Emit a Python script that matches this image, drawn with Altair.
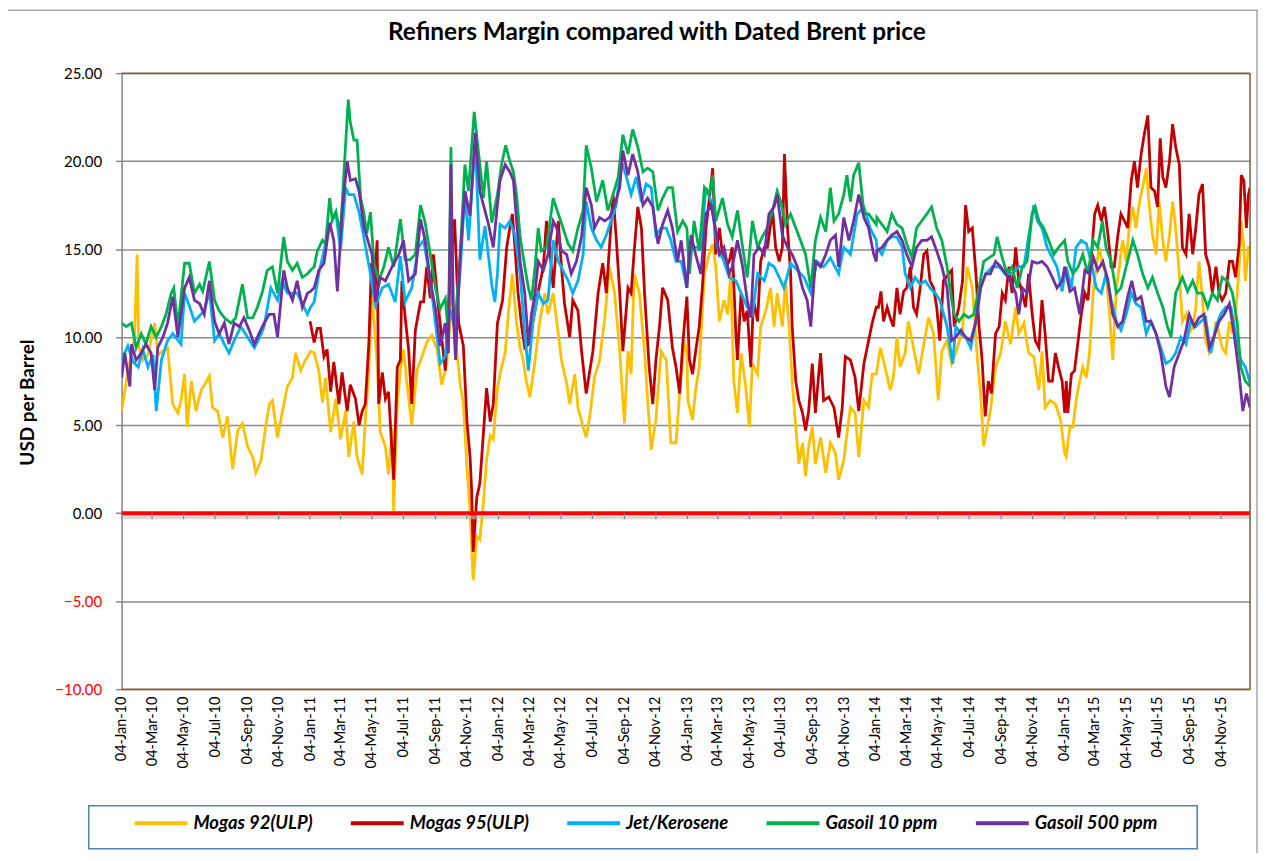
import altair as alt
import pandas as pd

SERIES = ["Mogas 92(ULP)", "Mogas 95(ULP)", "Jet/Kerosene", "Gasoil 10 ppm", "Gasoil 500 ppm"]
COLORS = ["#FFC000", "#C00000", "#00B0F0", "#00B050", "#7030A0"]
TITLE = "Refiners Margin compared with Dated Brent price"

# (months elapsed since 04-Jan-2010, USD per barrel)
MOGAS92 = [
    (0.00, 5.8), (0.40, 8.0), (0.82, 10.0), (0.97, 14.7), (1.10, 9.5), (1.35, 8.7), (1.67, 9.0), (2.09, 10.8),
    (2.30, 9.0), (2.94, 9.4), (3.26, 6.2), (3.57, 5.7), (3.78, 6.4), (4.00, 7.9), (4.16, 4.9), (4.42, 7.5),
    (4.74, 5.8), (5.05, 7.0), (5.37, 7.4), (5.58, 7.8), (5.79, 6.0), (6.11, 5.8), (6.43, 4.3), (6.74, 5.5),
    (7.06, 2.5), (7.38, 4.7), (7.70, 5.1), (8.01, 3.8), (8.33, 3.2), (8.54, 2.3), (8.86, 3.0), (9.18, 4.9),
    (9.39, 6.2), (9.60, 6.4), (9.92, 4.3), (10.23, 5.7), (10.55, 7.2), (10.87, 7.7), (11.08, 9.1), (11.40, 8.1),
    (11.71, 8.7), (12.03, 9.2),
    (12.24, 9.1), (12.55, 8.1), (12.77, 6.3), (12.98, 7.7), (13.30, 4.6), (13.62, 6.5), (13.93, 4.2), (14.25, 5.8),
    (14.46, 3.2), (14.78, 5.2), (14.99, 3.2), (15.31, 2.2), (15.52, 5.2), (15.73, 8.1), (15.94, 12.4), (16.26, 8.5),
    (16.47, 4.6), (16.79, 3.8), (17.00, 2.2), (17.21, 4.8), (17.31, 0.1), (17.53, 6.2), (17.74, 8.1), (17.95, 9.3),
    (18.16, 7.3), (18.48, 5.0), (18.79, 8.1), (19.11, 8.9), (19.43, 9.7), (19.75, 10.1), (20.06, 9.3), (20.38, 7.3),
    (20.70, 8.5), (21.01, 12.0), (21.23, 10.1), (21.54, 7.3), (21.75, 6.2), (21.97, 2.6), (22.18, 0.1), (22.39, -3.8),
    (22.60, -1.3), (22.81, -1.5), (23.02, 0.7), (23.23, 3.0), (23.45, 4.4), (23.66, 4.2), (23.93, 7.1),
    (24.19, 8.3), (24.40, 9.1), (24.61, 11.3), (24.86, 13.6), (25.14, 10.8), (25.35, 9.4), (25.56, 8.7), (25.77, 7.5),
    (25.98, 6.6), (26.30, 8.7), (26.62, 10.9), (26.93, 12.5), (27.14, 11.3), (27.46, 12.5), (27.68, 10.9), (27.99, 8.7),
    (28.31, 7.4), (28.52, 6.2), (28.84, 7.9), (29.05, 6.0), (29.37, 4.9), (29.58, 4.3), (29.79, 5.5), (30.11, 7.7),
    (30.42, 8.7), (30.74, 11.1), (31.06, 14.0), (31.37, 12.5), (31.69, 9.2), (32.01, 5.1), (32.22, 9.2), (32.43, 7.9),
    (32.64, 13.6), (32.96, 12.5), (33.28, 9.2), (33.49, 6.4), (33.70, 3.6), (34.02, 5.3), (34.33, 9.2), (34.65, 8.7),
    (34.97, 4.0), (35.29, 4.0), (35.50, 6.8), (35.81, 9.8), (35.98, 9.1),
    (36.03, 6.4), (36.34, 5.3), (36.55, 7.0), (36.76, 8.3), (37.08, 13.6), (37.40, 14.7), (37.61, 15.3), (37.82, 14.0),
    (38.03, 10.9), (38.35, 12.1), (38.56, 11.3), (38.77, 13.6), (38.98, 7.5), (39.20, 5.7), (39.41, 9.1), (39.73, 7.2),
    (39.94, 4.9), (40.15, 8.5), (40.47, 7.9), (40.68, 10.6), (40.99, 11.5), (41.31, 12.8), (41.52, 10.6), (41.73, 12.5),
    (42.05, 10.6), (42.26, 13.2), (42.47, 10.6), (42.68, 7.5), (42.90, 4.9), (43.11, 2.8), (43.32, 4.0), (43.53, 2.1),
    (43.74, 3.8), (43.95, 4.9), (44.16, 2.8), (44.48, 4.3), (44.80, 2.3), (45.12, 4.0), (45.43, 3.4), (45.65, 1.9),
    (45.96, 3.0), (46.17, 4.5), (46.38, 6.0), (46.70, 5.7), (46.91, 3.2), (47.23, 6.4), (47.55, 6.0), (47.76, 7.9),
    (48.03, 7.9),
    (48.29, 9.4), (48.60, 8.3), (48.92, 7.0), (49.13, 7.7), (49.34, 10.0), (49.56, 8.3), (49.87, 9.1), (50.08, 10.9),
    (50.40, 9.4), (50.72, 7.9), (51.04, 9.6), (51.35, 11.1), (51.67, 10.2), (51.99, 6.4), (52.20, 9.2), (52.52, 9.8),
    (52.83, 8.5), (53.09, 9.1), (53.51, 10.4), (53.83, 14.0), (54.14, 12.8), (54.46, 8.7), (54.67, 6.8), (54.88, 3.8),
    (55.09, 4.9), (55.31, 5.8), (55.62, 8.3), (55.94, 9.1), (56.26, 10.9), (56.58, 9.6), (56.89, 11.7), (57.10, 10.2),
    (57.42, 10.8), (57.74, 9.1), (58.05, 8.9), (58.37, 7.0), (58.58, 9.2), (58.79, 6.0), (59.11, 6.4), (59.43, 6.2),
    (59.75, 5.3), (60.02, 3.4),
    (60.13, 3.2), (60.34, 4.9), (60.55, 4.9), (60.76, 6.4), (60.97, 7.5), (61.18, 8.3), (61.40, 7.7), (61.61, 9.1),
    (61.82, 12.5), (62.03, 14.0), (62.24, 15.1), (62.45, 14.0), (62.66, 13.6), (62.88, 11.3), (63.09, 8.7), (63.30, 12.8),
    (63.51, 14.0), (63.72, 15.5), (63.93, 14.3), (64.14, 16.2), (64.36, 17.4), (64.57, 16.2), (64.78, 17.7), (64.99, 18.5),
    (65.20, 19.6), (65.41, 17.4), (65.62, 15.8), (65.84, 14.7), (66.05, 17.7), (66.26, 15.5), (66.47, 14.3), (66.68, 15.8),
    (66.89, 17.7), (67.10, 16.2), (67.31, 13.6), (67.53, 10.9), (67.74, 11.3), (67.95, 10.2), (68.16, 10.6), (68.37, 11.7),
    (68.58, 14.3), (68.79, 12.1), (69.01, 9.8), (69.22, 9.1), (69.43, 9.4), (69.64, 10.9), (69.85, 10.2), (70.06, 9.4),
    (70.27, 9.1), (70.49, 10.9), (70.70, 10.2), (70.91, 11.3), (71.12, 14.0), (71.27, 16.6), (71.44, 15.1), (71.54, 13.2),
    (71.71, 15.1), (71.82, 15.1),
]

MOGAS95 = [
    (12.00, 10.9), (12.24, 9.7), (12.45, 10.5), (12.66, 10.5), (12.87, 8.9), (13.09, 9.3), (13.30, 6.9), (13.51, 8.6),
    (13.83, 6.2), (14.04, 8.0), (14.36, 5.8), (14.57, 7.3), (14.88, 6.5), (15.10, 5.0), (15.31, 5.8), (15.52, 6.2),
    (15.73, 9.7), (15.90, 14.2), (16.05, 12.4), (16.26, 15.5), (16.36, 6.2), (16.58, 8.0), (16.79, 6.5), (17.00, 6.9),
    (17.31, 1.9), (17.53, 8.3), (17.74, 8.7), (17.84, 13.2), (18.05, 11.2), (18.27, 9.3), (18.48, 6.2), (18.69, 10.4),
    (19.01, 12.0), (19.22, 12.0), (19.43, 14.0), (19.64, 12.2), (19.85, 14.7), (20.17, 11.6), (20.59, 8.1), (20.91, 13.2),
    (21.18, 16.7), (21.44, 10.8), (21.75, 9.5), (21.97, 5.2), (22.18, 3.2), (22.28, 1.3), (22.39, -2.2), (22.60, 0.9),
    (22.81, 1.7), (23.02, 4.6), (23.23, 7.1), (23.45, 5.2), (23.66, 6.2), (23.93, 10.8),
    (24.23, 12.1), (24.50, 15.1), (24.71, 16.2), (24.86, 17.0), (25.03, 15.1), (25.24, 12.5), (25.45, 10.6), (25.67, 9.4),
    (25.88, 9.6), (26.19, 10.9), (26.51, 12.6), (26.83, 14.0), (27.04, 16.6), (27.25, 15.1), (27.46, 12.8), (27.78, 16.6),
    (27.99, 14.0), (28.20, 11.9), (28.52, 10.0), (28.73, 12.1), (29.05, 11.5), (29.26, 9.2), (29.58, 6.8), (29.79, 8.1),
    (30.00, 9.2), (30.32, 12.5), (30.63, 14.2), (30.85, 12.5), (31.06, 15.1), (31.27, 18.1), (31.48, 15.7), (31.69, 12.5),
    (31.90, 9.2), (32.22, 12.8), (32.43, 12.5), (32.64, 14.9), (32.85, 17.4), (33.07, 16.2), (33.28, 12.5), (33.59, 8.3),
    (33.81, 6.2), (34.02, 8.7), (34.23, 10.6), (34.44, 12.8), (34.76, 12.1), (35.07, 9.4), (35.29, 8.3), (35.50, 6.8),
    (35.71, 9.6), (35.98, 12.3),
    (36.13, 8.7), (36.34, 7.9), (36.55, 9.2), (36.76, 10.6), (36.97, 12.8), (37.19, 16.2), (37.40, 17.7), (37.61, 19.6),
    (37.82, 14.7), (38.03, 16.2), (38.25, 14.7), (38.46, 14.0), (38.67, 14.3), (38.88, 15.1), (39.09, 10.2), (39.20, 8.7),
    (39.41, 12.5), (39.62, 10.9), (39.83, 11.5), (40.04, 8.3), (40.21, 12.1), (40.47, 10.9), (40.68, 14.3), (40.89, 15.1),
    (41.10, 15.1), (41.42, 17.2), (41.63, 15.1), (41.84, 14.3), (42.05, 15.1), (42.20, 20.4), (42.37, 16.2), (42.58, 13.6),
    (42.68, 10.6), (42.90, 7.5), (43.11, 6.4), (43.32, 5.7), (43.53, 4.7), (43.74, 5.8), (43.95, 8.5), (44.16, 5.7),
    (44.48, 9.1), (44.69, 6.4), (45.01, 6.6), (45.33, 6.0), (45.65, 4.3), (45.86, 6.0), (46.07, 8.9), (46.38, 8.7),
    (46.70, 7.7), (46.91, 5.8), (47.23, 8.5), (47.55, 9.8), (47.76, 10.8), (48.03, 11.7),
    (48.18, 11.7), (48.33, 12.6), (48.50, 10.9), (48.71, 11.7), (48.92, 11.1), (49.13, 10.6), (49.34, 12.8), (49.56, 11.3),
    (49.77, 12.6), (49.98, 12.8), (50.19, 14.0), (50.40, 11.7), (50.61, 11.3), (50.82, 12.8), (51.04, 14.7), (51.25, 14.9),
    (51.46, 13.2), (51.67, 12.8), (51.88, 11.7), (52.09, 9.8), (52.30, 13.2), (52.62, 13.6), (52.83, 13.8), (52.99, 10.6),
    (53.30, 11.7), (53.51, 13.2), (53.72, 17.5), (53.93, 16.0), (54.14, 16.2), (54.36, 13.6), (54.57, 10.6), (54.78, 8.7),
    (54.95, 5.5), (55.16, 7.5), (55.37, 6.8), (55.62, 10.2), (55.84, 10.6), (56.05, 12.5), (56.26, 12.1), (56.47, 14.0),
    (56.68, 12.5), (56.89, 15.1), (57.10, 13.2), (57.32, 12.5), (57.53, 11.7), (57.74, 13.6), (57.95, 11.3), (58.16, 9.8),
    (58.37, 9.4), (58.58, 12.1), (58.79, 10.2), (59.01, 7.5), (59.22, 7.5), (59.43, 9.1), (59.64, 8.3), (59.85, 7.5),
    (60.02, 5.7),
    (60.13, 7.5), (60.23, 5.7), (60.44, 7.9), (60.66, 8.1), (60.87, 9.8), (61.08, 11.3), (61.29, 12.5), (61.50, 12.1),
    (61.71, 14.3), (61.92, 17.0), (62.14, 17.5), (62.35, 16.6), (62.56, 17.4), (62.77, 15.8), (62.98, 14.0), (63.19, 14.0),
    (63.40, 15.8), (63.62, 17.0), (63.83, 16.6), (64.04, 16.2), (64.25, 18.9), (64.46, 20.0), (64.67, 18.5), (64.88, 20.4),
    (65.10, 21.5), (65.31, 22.6), (65.52, 18.5), (65.73, 18.3), (65.94, 17.4), (66.09, 21.3), (66.26, 19.1), (66.47, 18.5),
    (66.68, 20.0), (66.89, 22.1), (67.10, 20.8), (67.31, 19.8), (67.53, 15.1), (67.74, 14.7), (67.95, 17.0), (68.16, 14.7),
    (68.37, 16.2), (68.58, 18.1), (68.79, 18.7), (69.01, 14.7), (69.22, 14.0), (69.43, 12.5), (69.64, 14.0), (69.85, 12.5),
    (70.06, 12.1), (70.27, 12.5), (70.49, 14.3), (70.70, 14.3), (70.91, 13.4), (71.12, 15.3), (71.27, 19.2), (71.44, 18.9),
    (71.59, 16.2), (71.71, 18.1), (71.82, 18.5),
]

JET = [
    (0.00, 8.7), (0.40, 9.5), (0.72, 8.6), (1.04, 8.3), (1.35, 9.3), (1.67, 8.3), (1.99, 9.0), (2.20, 5.8),
    (2.52, 8.7), (2.94, 9.8), (3.26, 10.2), (3.78, 9.6), (4.00, 12.5), (4.31, 11.8), (4.63, 10.9), (5.26, 11.5),
    (5.58, 12.6), (5.90, 9.8), (6.22, 10.2), (6.53, 9.6), (6.85, 9.1), (7.17, 9.8), (7.59, 10.6), (8.01, 10.0),
    (8.44, 9.4), (8.75, 9.9), (9.07, 10.6), (9.49, 12.8), (9.92, 12.1), (10.23, 13.2), (10.55, 12.5), (11.18, 12.5),
    (11.82, 11.3), (12.03, 11.7),
    (12.24, 12.0), (12.55, 13.6), (13.19, 16.1), (13.62, 17.1), (13.93, 14.9), (14.25, 18.5), (14.46, 18.1), (14.78, 18.1),
    (15.10, 17.1), (15.41, 15.7), (15.84, 13.6), (16.15, 11.8), (16.58, 12.8), (17.00, 13.0), (17.42, 12.0), (17.74, 14.6),
    (18.05, 12.0), (18.48, 12.8), (18.90, 15.1), (19.22, 15.5), (19.64, 13.2), (19.96, 10.8), (20.27, 8.5), (20.59, 8.9),
    (20.91, 11.6), (21.23, 10.4), (21.54, 13.8), (21.86, 18.3), (22.07, 15.5), (22.49, 21.2), (22.81, 14.4), (23.13, 16.3),
    (23.55, 13.0), (23.76, 12.0), (23.93, 13.6),
    (24.08, 16.4), (24.40, 16.2), (24.71, 16.6), (25.03, 15.8), (25.35, 13.6), (25.67, 10.2), (25.88, 8.1), (26.19, 10.9),
    (26.51, 12.5), (26.83, 11.9), (27.14, 12.1), (27.46, 15.5), (27.78, 14.3), (28.10, 13.8), (28.41, 13.2), (28.73, 12.5),
    (29.05, 13.2), (29.37, 14.7), (29.58, 17.7), (29.90, 16.2), (30.21, 15.5), (30.53, 15.1), (30.85, 15.8), (31.16, 16.6),
    (31.48, 17.5), (31.80, 20.0), (32.11, 19.2), (32.43, 18.1), (32.75, 19.1), (33.07, 17.7), (33.38, 18.7), (33.70, 18.5),
    (34.02, 15.8), (34.33, 16.2), (34.65, 16.2), (34.97, 15.5), (35.29, 14.3), (35.60, 14.3), (35.98, 12.8),
    (36.13, 15.0), (36.44, 15.1), (36.87, 15.1), (37.19, 18.5), (37.51, 17.7), (37.93, 15.1), (38.35, 14.3), (38.67, 13.4),
    (39.09, 13.2), (39.41, 12.5), (39.83, 11.7), (40.15, 11.3), (40.47, 13.6), (40.89, 13.2), (41.20, 14.2), (41.52, 14.0),
    (41.84, 13.4), (42.16, 12.8), (42.58, 14.2), (43.00, 13.8), (43.42, 13.4), (43.85, 12.5), (44.27, 14.3), (44.69, 14.0),
    (45.12, 14.5), (45.65, 13.6), (45.96, 15.1), (46.38, 14.7), (46.81, 17.0), (47.23, 17.4), (47.65, 16.2), (48.03, 15.5),
    (48.08, 15.1), (48.39, 14.7), (48.71, 15.5), (49.03, 15.7), (49.34, 15.7), (49.66, 15.1), (49.87, 13.6), (50.19, 12.8),
    (50.51, 13.4), (50.82, 13.0), (51.14, 13.2), (51.46, 12.8), (51.78, 12.5), (52.09, 12.1), (52.52, 10.6), (52.90, 8.5),
    (53.09, 10.6), (53.41, 10.2), (53.72, 10.0), (54.04, 9.4), (54.36, 10.9), (54.67, 12.8), (54.99, 13.6), (55.41, 14.0),
    (55.84, 14.0), (56.26, 13.6), (56.68, 13.6), (57.10, 14.0), (57.42, 14.0), (57.74, 15.7), (58.05, 17.5), (58.27, 16.6),
    (58.58, 16.2), (58.90, 15.1), (59.22, 14.5), (59.53, 14.0), (59.85, 12.6), (60.02, 13.6),
    (60.13, 14.0), (60.44, 12.8), (60.76, 15.1), (61.08, 15.5), (61.40, 15.3), (61.71, 14.3), (62.03, 12.8), (62.35, 12.5),
    (62.66, 13.6), (62.98, 12.1), (63.30, 10.9), (63.62, 10.4), (63.93, 11.3), (64.25, 12.5), (64.57, 11.9), (64.88, 11.7),
    (65.20, 10.2), (65.52, 10.9), (65.84, 10.2), (66.15, 9.4), (66.47, 8.5), (66.78, 8.7), (67.10, 9.1), (67.42, 10.0),
    (67.74, 9.6), (68.05, 10.9), (68.37, 10.6), (68.69, 10.9), (69.01, 11.1), (69.32, 9.1), (69.64, 10.6), (69.96, 11.3),
    (70.27, 11.7), (70.59, 11.7), (70.91, 10.2), (71.23, 8.7), (71.54, 8.3), (71.82, 7.4),
]

GASOIL10 = [
    (0.00, 10.8), (0.30, 10.6), (0.61, 10.8), (0.93, 9.4), (1.25, 10.2), (1.56, 9.6), (1.88, 10.6), (2.20, 10.0),
    (2.52, 10.6), (2.83, 11.3), (3.15, 12.5), (3.32, 12.8), (3.57, 10.6), (4.00, 14.2), (4.31, 14.2), (4.63, 12.5),
    (4.95, 13.0), (5.16, 12.6), (5.58, 14.3), (5.90, 12.1), (6.22, 11.5), (6.53, 11.1), (6.96, 10.8), (7.27, 11.1),
    (7.70, 13.0), (8.01, 11.1), (8.33, 11.1), (8.65, 11.7), (8.96, 12.6), (9.28, 13.8), (9.60, 14.0), (9.92, 12.5),
    (10.30, 15.7), (10.55, 14.3), (10.87, 13.8), (11.18, 14.2), (11.50, 13.4), (11.82, 13.6), (12.03, 13.8),
    (12.24, 14.0), (12.45, 14.9), (12.77, 15.5), (12.98, 15.3), (13.23, 17.9), (13.40, 16.7), (13.62, 17.1), (13.93, 15.9),
    (14.14, 19.0), (14.42, 23.5), (14.57, 22.2), (14.78, 21.2), (14.99, 21.2), (15.20, 17.9), (15.41, 17.1), (15.62, 15.9),
    (15.84, 17.1), (16.05, 14.2), (16.36, 13.2), (16.68, 14.0), (17.00, 15.1), (17.31, 14.0), (17.74, 16.7), (18.05, 14.4),
    (18.37, 14.4), (18.69, 14.7), (19.01, 17.5), (19.32, 16.5), (19.64, 14.7), (19.96, 12.8), (20.27, 11.6), (20.59, 12.2),
    (20.80, 10.1), (20.97, 20.8), (21.06, 12.0), (21.23, 10.8), (21.54, 14.7), (21.86, 19.8), (22.07, 18.3), (22.45, 22.8),
    (22.71, 20.6), (23.02, 17.9), (23.23, 20.0), (23.55, 16.5), (23.93, 18.1),
    (24.19, 19.8), (24.44, 20.9), (24.71, 20.0), (24.93, 19.4), (25.14, 18.1), (25.35, 15.7), (25.67, 14.0), (25.88, 12.8),
    (26.09, 12.1), (26.30, 14.0), (26.51, 16.2), (26.72, 14.9), (27.04, 15.1), (27.46, 17.9), (27.78, 17.0), (28.10, 16.2),
    (28.41, 15.3), (28.73, 14.9), (29.05, 16.2), (29.37, 17.2), (29.58, 20.9), (29.90, 19.6), (30.21, 17.7), (30.63, 18.9),
    (30.95, 17.2), (31.27, 18.1), (31.59, 19.1), (31.90, 21.5), (32.22, 20.4), (32.54, 21.8), (32.85, 20.8), (33.17, 19.4),
    (33.49, 19.6), (33.81, 19.4), (34.12, 17.2), (34.44, 17.9), (34.76, 18.5), (35.07, 18.5), (35.39, 16.0), (35.71, 16.6),
    (35.98, 16.2),
    (36.13, 13.6), (36.44, 16.6), (36.76, 14.9), (37.08, 18.5), (37.40, 18.1), (37.61, 19.2), (37.82, 16.6), (38.25, 17.9),
    (38.56, 16.4), (38.88, 15.7), (39.20, 17.2), (39.51, 15.1), (39.83, 13.4), (40.15, 16.6), (40.47, 15.1), (40.78, 15.7),
    (41.10, 16.2), (41.42, 17.2), (41.73, 18.3), (41.94, 17.7), (42.26, 16.4), (42.58, 17.0), (42.90, 16.2), (43.21, 15.5),
    (43.53, 14.7), (43.85, 12.8), (44.16, 15.5), (44.48, 16.8), (44.80, 16.0), (45.12, 18.5), (45.33, 16.6), (45.65, 17.0),
    (45.96, 18.1), (46.17, 19.2), (46.38, 17.7), (46.60, 19.2), (46.91, 19.9), (47.23, 17.0), (47.55, 17.0), (48.03, 16.4),
    (48.08, 16.8), (48.39, 16.4), (48.71, 16.0), (49.03, 17.0), (49.34, 16.4), (49.66, 16.2), (49.98, 15.3), (50.30, 14.5),
    (50.61, 16.2), (50.93, 16.6), (51.25, 17.0), (51.56, 17.4), (51.88, 16.2), (52.20, 15.5), (52.52, 14.0), (52.83, 12.1),
    (52.99, 11.3), (53.30, 10.9), (53.62, 11.3), (53.93, 11.1), (54.25, 11.3), (54.57, 12.8), (54.88, 14.3), (55.20, 14.5),
    (55.52, 14.7), (55.73, 15.7), (56.05, 14.5), (56.36, 13.6), (56.68, 14.0), (57.00, 12.8), (57.32, 14.0), (57.63, 14.3),
    (57.95, 17.0), (58.16, 17.4), (58.37, 16.6), (58.69, 16.2), (59.01, 15.5), (59.32, 14.7), (59.64, 15.1), (60.02, 15.5),
    (60.23, 14.3), (60.55, 13.6), (60.87, 14.0), (61.18, 14.7), (61.50, 13.6), (61.82, 15.5), (62.14, 15.1), (62.41, 16.6),
    (62.66, 15.1), (62.98, 14.3), (63.30, 12.5), (63.62, 12.8), (63.93, 14.0), (64.36, 15.5), (64.67, 14.7), (64.99, 13.6),
    (65.31, 12.8), (65.62, 13.4), (65.94, 12.5), (66.26, 11.7), (66.57, 10.6), (66.78, 10.0), (67.10, 12.5), (67.53, 13.4),
    (67.84, 12.6), (68.16, 13.2), (68.48, 12.5), (68.79, 12.5), (69.11, 11.7), (69.43, 12.5), (69.75, 12.1), (70.06, 13.4),
    (70.38, 13.2), (70.70, 12.5), (71.01, 10.9), (71.23, 8.3), (71.54, 7.5), (71.82, 7.2),
]

GASOIL500 = [
    (0.00, 7.7), (0.19, 9.1), (0.51, 7.2), (0.61, 9.6), (0.93, 8.7), (1.25, 9.1), (1.56, 9.6), (1.88, 9.1),
    (2.09, 7.0), (2.30, 9.4), (2.62, 10.0), (2.94, 10.8), (3.26, 12.3), (3.57, 10.0), (4.00, 12.8), (4.31, 13.4),
    (4.63, 12.1), (4.95, 11.9), (5.26, 11.3), (5.58, 13.2), (5.90, 10.9), (6.22, 10.2), (6.53, 10.8), (6.85, 9.6),
    (7.17, 10.8), (7.48, 10.6), (7.80, 11.1), (8.12, 10.4), (8.44, 9.6), (8.75, 10.2), (9.07, 10.8), (9.39, 11.3),
    (9.70, 11.3), (9.92, 10.0), (10.30, 13.8), (10.55, 12.8), (10.87, 12.1), (11.18, 13.2), (11.50, 11.7), (11.82, 12.5),
    (12.03, 12.6),
    (12.24, 12.8), (12.55, 13.8), (12.87, 14.2), (13.23, 16.5), (13.51, 15.5), (13.72, 12.6), (14.04, 17.1), (14.36, 20.0),
    (14.57, 18.9), (14.88, 19.0), (15.10, 18.3), (15.41, 16.3), (15.73, 15.3), (15.94, 14.7), (16.15, 12.0), (16.47, 13.4),
    (16.79, 13.2), (17.21, 14.0), (17.63, 14.7), (17.95, 15.5), (18.27, 13.2), (18.69, 13.6), (19.01, 16.7), (19.32, 15.5),
    (19.64, 13.2), (19.96, 11.6), (20.27, 9.5), (20.59, 10.8), (20.80, 9.1), (20.97, 19.8), (21.12, 11.0), (21.27, 8.7),
    (21.54, 14.7), (21.86, 18.3), (22.18, 16.9), (22.49, 21.6), (22.81, 18.3), (23.02, 17.5), (23.34, 16.5), (23.66, 15.1),
    (23.93, 17.5),
    (24.08, 18.9), (24.40, 19.8), (24.71, 19.4), (24.93, 18.9), (25.14, 16.6), (25.35, 14.3), (25.67, 12.5), (25.88, 9.6),
    (26.09, 11.3), (26.30, 12.5), (26.51, 14.3), (26.83, 13.8), (27.14, 14.7), (27.46, 16.6), (27.68, 16.2), (27.99, 14.9),
    (28.31, 14.7), (28.62, 13.6), (28.94, 14.3), (29.26, 15.7), (29.58, 18.5), (29.90, 17.5), (30.11, 16.2), (30.42, 16.8),
    (30.74, 16.6), (31.06, 16.8), (31.37, 17.5), (31.69, 18.5), (31.90, 20.6), (32.22, 19.2), (32.54, 20.4), (32.85, 19.4),
    (33.17, 17.5), (33.49, 17.9), (33.81, 17.4), (34.12, 15.3), (34.44, 16.4), (34.76, 17.2), (35.07, 16.2), (35.39, 14.3),
    (35.60, 15.5), (35.98, 12.8),
    (36.24, 15.8), (36.55, 14.7), (36.87, 13.6), (37.19, 17.0), (37.51, 17.5), (37.72, 16.6), (38.03, 14.7), (38.35, 15.1),
    (38.67, 13.6), (38.88, 14.0), (39.20, 15.5), (39.51, 14.0), (39.83, 12.1), (40.04, 11.1), (40.25, 14.7), (40.57, 15.1),
    (40.89, 14.7), (41.20, 17.0), (41.52, 17.4), (41.73, 18.1), (42.05, 15.8), (42.37, 15.1), (42.68, 14.7), (43.00, 14.0),
    (43.32, 12.8), (43.64, 12.1), (43.85, 10.6), (44.16, 14.3), (44.48, 14.0), (44.80, 14.7), (45.12, 15.5), (45.43, 15.8),
    (45.65, 14.0), (45.96, 16.8), (46.28, 15.5), (46.60, 16.6), (46.91, 18.1), (47.23, 16.8), (47.55, 16.2), (47.86, 14.7),
    (48.03, 14.3),
    (48.08, 14.9), (48.39, 15.1), (48.71, 15.5), (49.03, 15.8), (49.34, 16.0), (49.66, 15.5), (49.98, 14.7), (50.30, 14.0),
    (50.61, 15.1), (50.93, 15.5), (51.25, 15.5), (51.56, 15.7), (51.88, 14.9), (52.20, 14.0), (52.52, 12.8), (52.83, 9.8),
    (53.09, 10.0), (53.41, 10.4), (53.72, 10.0), (54.04, 9.8), (54.36, 10.9), (54.67, 12.8), (54.99, 13.6), (55.31, 13.6),
    (55.62, 14.3), (55.94, 14.0), (56.26, 13.6), (56.58, 13.2), (56.89, 12.5), (57.10, 11.3), (57.32, 12.8), (57.63, 12.5),
    (57.95, 14.3), (58.27, 14.2), (58.58, 14.3), (58.90, 14.0), (59.22, 13.4), (59.53, 12.8), (59.85, 13.2), (60.02, 14.0),
    (60.34, 12.6), (60.66, 12.8), (60.97, 11.3), (61.29, 13.8), (61.61, 13.6), (61.86, 14.5), (62.14, 13.8), (62.45, 14.3),
    (62.77, 13.2), (63.09, 11.3), (63.40, 10.6), (63.72, 10.9), (64.04, 12.3), (64.31, 13.2), (64.57, 12.1), (64.88, 12.3),
    (65.20, 10.9), (65.52, 10.9), (65.84, 10.2), (66.15, 9.1), (66.47, 7.2), (66.68, 6.6), (67.00, 8.3), (67.31, 9.1),
    (67.63, 9.8), (67.95, 11.3), (68.27, 10.6), (68.58, 11.1), (68.90, 11.3), (69.22, 9.4), (69.53, 10.0), (69.85, 10.9),
    (70.17, 11.3), (70.49, 11.9), (70.80, 10.2), (71.12, 7.9), (71.37, 5.8), (71.59, 6.8), (71.82, 6.0),
]

Y_TICKS = [-10, -5, 0, 5, 10, 15, 20, 25]
TICK_YEARS = [2010, 2011, 2012, 2013, 2014, 2015]
TICK_MONTHS = [1, 3, 5, 7, 9, 11]

BASE = pd.Timestamp("2010-01-04")
DAYS_PER_MONTH = 30.4375

rows = []
for name, pts in zip(SERIES, [MOGAS92, MOGAS95, JET, GASOIL10, GASOIL500]):
    for m, v in pts:
        rows.append({"series": name,
                     "date": BASE + pd.Timedelta(days=round(m * DAYS_PER_MONTH)),
                     "value": v})
df = pd.DataFrame(rows)

tick_dates = [pd.Timestamp(y, mo, 4) for y in TICK_YEARS for mo in TICK_MONTHS]
ticks_df = pd.DataFrame({"date": tick_dates})
one = pd.DataFrame({"a": [0]})

W, H = 1132, 618
FONT = "Lato"

x_enc = alt.X(
    "date:T",
    scale=alt.Scale(domain=[alt.DateTime(year=2010, month=1, date=4),
                            alt.DateTime(year=2015, month=12, date=30)]),
    axis=alt.Axis(
        values=[alt.DateTime(year=d.year, month=d.month, date=4) for d in tick_dates],
        format="%d-%b-%y", labelAngle=270, labelFont=FONT, labelFontSize=14.5,
        labelColor="black", ticks=False, domain=False, grid=False, labelPadding=7,
        labelOverlap=False, labelFlush=False, title=None,
    ),
)

y_scale = alt.Scale(domain=[-10, 25], nice=False, zero=False)

lines = alt.Chart(df).mark_line(strokeWidth=2.8, clip=True).encode(
    x=x_enc,
    y=alt.Y(
        "value:Q", scale=y_scale,
        axis=alt.Axis(
            values=Y_TICKS, format=".2f", labelFont=FONT, labelFontSize=15,
            labelColor={"condition": {"test": "datum.value < 0", "value": "#FF0000"}, "value": "black"},
            tickSize=6, tickColor="#868686", tickWidth=1.5,
            domainColor="#868686", domainWidth=1.5,
            gridColor="#8C8C8C", gridWidth=1.5, labelPadding=14,
            title="USD per  Barrel", titleFont=FONT, titleFontSize=19, titleFontWeight="bold",
            titleColor="black", titleAngle=270, titleX=-94, titleY=330,
            titleAlign="center", titleBaseline="middle",
        ),
    ),
    color=alt.Color(
        "series:N",
        scale=alt.Scale(domain=SERIES, range=COLORS),
        legend=alt.Legend(
            title=None, orient="none", legendX=11, legendY=724, direction="horizontal",
            symbolType="stroke", symbolStrokeWidth=4, symbolSize=2809,
            labelFont=FONT, labelFontSize=18.5, labelFontStyle="italic", labelFontWeight="bold",
            labelColor="black", columnPadding=30, labelOffset=4, padding=0, labelLimit=300,
        ),
    ),
)

zero_shadow = alt.Chart(one).mark_rule(color="#BFBFBF", strokeWidth=4, yOffset=4, opacity=0.6).encode(
    y=alt.datum(0, scale=y_scale))
zero_line = alt.Chart(one).mark_rule(color="#FF0000", strokeWidth=4).encode(y=alt.datum(0))

zero_ticks = alt.Chart(ticks_df).mark_rule(color="#868686", strokeWidth=1.2).encode(
    x=x_enc, y=alt.datum(0), y2=alt.datum(-0.35))

frame_col = "#7F5F3F"
top_b = alt.Chart(one).mark_rule(color=frame_col, strokeWidth=1.5).encode(
    x=alt.value(0), x2=alt.value(W), y=alt.value(0))
bot_b = alt.Chart(one).mark_rule(color=frame_col, strokeWidth=1.5).encode(
    x=alt.value(0), x2=alt.value(W), y=alt.value(H))
right_b = alt.Chart(one).mark_rule(color=frame_col, strokeWidth=1.5).encode(
    x=alt.value(W), y=alt.value(0), y2=alt.value(H))

legend_box = alt.Chart(one).mark_rect(fillOpacity=0, stroke="#4F81BD", strokeWidth=1.5).encode(
    x=alt.value(-33), x2=alt.value(1079), y=alt.value(735), y2=alt.value(778))

outer_box = alt.Chart(one).mark_rect(fillOpacity=0, stroke="#A6A6A6", strokeWidth=1.5).encode(
    x=alt.value(-117), x2=alt.value(1139), y=alt.value(-63), y2=alt.value(800))

title_text = alt.Chart(one).mark_text(
    font=FONT, fontSize=24.5, fontWeight="bold", color="black", align="center", baseline="middle"
).encode(x=alt.value(537), y=alt.value(-40), text=alt.value(TITLE))

chart = alt.layer(
    outer_box, lines, zero_shadow, zero_line, zero_ticks, top_b, bot_b, right_b, legend_box, title_text
).properties(
    width=W, height=H,
    autosize=alt.AutoSizeParams(type="none"),
    padding={"left": 114, "top": 64, "right": 8, "bottom": 163},
).configure_view(stroke=None).configure(background="white")

chart.save("out.html", embed_options={"renderer": "svg", "actions": False})
